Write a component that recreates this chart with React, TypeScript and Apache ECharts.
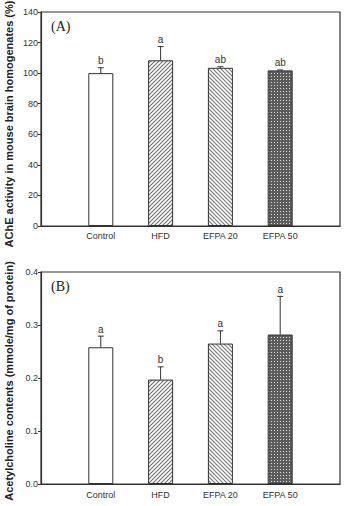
import React, { useEffect, useRef } from "react";
import * as echarts from "echarts";

const categories = ["Control", "HFD", "EFPA 20", "EFPA 50"];
const aMeans = [100, 108.4, 103.5, 101.8];
const aErrors = [3.5, 9, 0.7, 0.3];
const aLetters = ["b", "a", "ab", "ab"];
const bMeans = [0.258, 0.197, 0.265, 0.282];
const bErrors = [0.021, 0.024, 0.024, 0.072];
const bLetters = ["a", "b", "a", "a"];
const aTicks = { min: 0, max: 140, interval: 20 };
const bTicks = { min: 0, max: 0.4, interval: 0.1 };

function makePattern(kind: string): HTMLCanvasElement {
  const c = document.createElement("canvas");
  const s = kind === "cross" ? 3 : 4;
  c.width = s;
  c.height = s;
  const ctx = c.getContext("2d")!;
  if (kind === "cross") {
    ctx.fillStyle = "#5c5c5c";
    ctx.fillRect(0, 0, s, s);
    ctx.fillStyle = "#e0e0e0";
    ctx.fillRect(1, 1, 1, 1);
    return c;
  }
  ctx.fillStyle = "#ffffff";
  ctx.fillRect(0, 0, s, s);
  ctx.strokeStyle = kind === "fwd" ? "#707070" : "#7a7a7a";
  ctx.lineWidth = 1.1;
  ctx.beginPath();
  if (kind === "fwd") {
    ctx.moveTo(0, s);
    ctx.lineTo(s, 0);
    ctx.moveTo(-1, 1);
    ctx.lineTo(1, -1);
    ctx.moveTo(s - 1, s + 1);
    ctx.lineTo(s + 1, s - 1);
  } else {
    ctx.moveTo(0, 0);
    ctx.lineTo(s, s);
    ctx.moveTo(s - 1, -1);
    ctx.lineTo(s + 1, 1);
    ctx.moveTo(-1, s - 1);
    ctx.lineTo(1, s + 1);
  }
  ctx.stroke();
  return c;
}

export default function App() {
  const ref = useRef<HTMLDivElement>(null);
  useEffect(() => {
    if (!ref.current) return;
    const chart = echarts.init(ref.current, undefined, { renderer: "svg" });
    const fills: any[] = [
      "#ffffff",
      { image: makePattern("fwd"), repeat: "repeat" },
      { image: makePattern("back"), repeat: "repeat" },
      { image: makePattern("cross"), repeat: "repeat" },
    ];
    const axisTxt = { fontFamily: "Liberation Sans, Arial", fontSize: 9, color: "#333" };
    const xAxisBase = (gridIndex: number, margin: number) => ({
      type: "value",
      gridIndex,
      min: 0,
      max: 5,
      interval: 1,
      axisLine: { show: true, lineStyle: { color: "#333", width: 1.2 } },
      axisTick: { show: false },
      splitLine: { show: false },
      axisLabel: {
        ...axisTxt,
        margin,
        formatter: (v: number) => categories[v - 1] || "",
      },
    });
    const yAxisBase = (gridIndex: number, t: any, fmt: (v: number) => string) => ({
      type: "value",
      gridIndex,
      min: t.min,
      max: t.max,
      interval: t.interval,
      axisLine: { show: true, lineStyle: { color: "#333", width: 1.2 } },
      axisTick: { show: true, inside: false, length: 3, lineStyle: { color: "#333" } },
      splitLine: { show: false },
      axisLabel: { ...axisTxt, margin: 3, formatter: fmt },
    });
    const barSeries = (idx: number, means: number[]) => ({
      type: "bar",
      xAxisIndex: idx,
      yAxisIndex: idx,
      barWidth: 25,
      z: 2,
      data: means.map((m, i) => ({
        value: [i + 1, m],
        itemStyle: { color: fills[i], borderColor: "#333", borderWidth: 1 },
      })),
    });
    const errSeries = (idx: number, means: number[], errs: number[], letters: string[]) => ({
      type: "custom",
      xAxisIndex: idx,
      yAxisIndex: idx,
      z: 5,
      data: means.map((m, i) => [i + 1, m, errs[i], i]),
      renderItem: (params: any, api: any) => {
        const x = api.value(0);
        const y = api.value(1);
        const e = api.value(2);
        const i = api.value(3);
        const p0 = api.coord([x, y]);
        const p1 = api.coord([x, y + e]);
        return {
          type: "group",
          children: [
            { type: "line", shape: { x1: p0[0], y1: p0[1], x2: p1[0], y2: p1[1] }, style: { stroke: "#333", lineWidth: 1 } },
            { type: "line", shape: { x1: p1[0] - 3, y1: p1[1], x2: p1[0] + 3, y2: p1[1] }, style: { stroke: "#333", lineWidth: 1 } },
            {
              type: "text",
              x: p1[0],
              y: p1[1] - 2,
              style: {
                text: letters[i],
                fontFamily: "Liberation Sans, Arial",
                fontSize: 10,
                fill: "#333",
                align: "center",
                verticalAlign: "bottom",
              },
            },
          ],
        };
      },
    });
    const titleStyle = { fontFamily: "Liberation Sans, Arial", fontWeight: "bold", fontSize: 11, fill: "#222" };
    chart.setOption({
      animation: false,
      grid: [
        { left: 41, top: 12, width: 299, height: 214, show: true, borderColor: "#333", borderWidth: 1.2, backgroundColor: "transparent" },
        { left: 41, top: 272, width: 299, height: 212, show: true, borderColor: "#333", borderWidth: 1.2, backgroundColor: "transparent" },
      ],
      xAxis: [xAxisBase(0, 5), xAxisBase(1, 6)],
      yAxis: [
        yAxisBase(0, aTicks, (v: number) => String(v)),
        yAxisBase(1, bTicks, (v: number) => v.toFixed(1)),
      ],
      series: [
        barSeries(0, aMeans),
        errSeries(0, aMeans, aErrors, aLetters),
        barSeries(1, bMeans),
        errSeries(1, bMeans, bErrors, bLetters),
      ],
      graphic: [
        { type: "text", left: 51, top: 19, style: { text: "(A)", fontFamily: "Liberation Serif, Times New Roman", fontSize: 14, fill: "#222" } },
        { type: "text", left: 51, top: 279, style: { text: "(B)", fontFamily: "Liberation Serif, Times New Roman", fontSize: 14, fill: "#222" } },
        {
          type: "text",
          x: 9,
          y: 124,
          rotation: Math.PI / 2,
          style: { ...titleStyle, text: "AChE activity in mouse brain homogenates (%)", align: "center", verticalAlign: "middle" },
        },
        {
          type: "text",
          x: 9,
          y: 381,
          rotation: Math.PI / 2,
          style: { ...titleStyle, text: "Acetylcholine contents (mmole/mg of protein)", align: "center", verticalAlign: "middle" },
        },
      ],
    });
    return () => chart.dispose();
  }, []);
  return <div ref={ref} style={{ position: "absolute", left: 0, top: 0, width: 344, height: 506 }} />;
}
